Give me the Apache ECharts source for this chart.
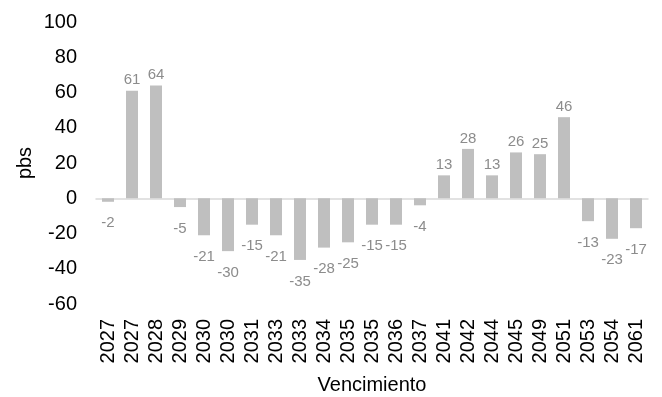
<!DOCTYPE html>
<html>
<head>
<meta charset="utf-8">
<script src="https://cdn.jsdelivr.net/npm/echarts@6/dist/echarts.min.js"></script>
<style>
  html, body { margin: 0; padding: 0; background: #fff; }
  #chart { width: 662px; height: 397px; }
</style>
</head>
<body>
<div id="chart"></div>
<script>
// Maturity year of each bond
const categories = ['2027', '2027', '2028', '2029', '2030', '2030', '2031', '2033', '2033', '2034', '2035', '2035', '2036', '2037', '2041', '2042', '2044', '2045', '2049', '2051', '2053', '2054', '2061'];
// Spread change in basis points
const values = [-2, 61, 64, -5, -21, -30, -15, -21, -35, -28, -25, -15, -15, -4, 13, 28, 13, 26, 25, 46, -13, -23, -17];
// Value axis range
const yMin = -60, yMax = 100, yStep = 20;

const FONT = 'Liberation Sans, Arial, sans-serif';

const barData = values.map(v => ({
  value: v,
  label: v < 0 ? { position: 'bottom', distance: 14 } : { position: 'top', distance: 3 }
}));

const chart = echarts.init(document.getElementById('chart'));
chart.setOption({
  animation: false,
  backgroundColor: '#ffffff',
  grid: { left: 96, right: 14, top: 22, bottom: 93, containLabel: false, outerBoundsMode: 'none' },
  xAxis: [
    {
      type: 'category',
      data: categories,
      name: 'Vencimiento',
      nameLocation: 'middle',
      nameGap: 71,
      nameMoveOverlap: false,
      nameTextStyle: { fontFamily: FONT, fontSize: 20, color: '#000' },
      axisLine: { show: false, onZero: false },
      axisTick: { show: false },
      splitLine: { show: false },
      axisLabel: { rotate: 90, margin: 15, fontFamily: FONT, fontSize: 20, color: '#000', interval: 0 }
    },
    {
      // baseline drawn at zero
      type: 'category',
      data: categories,
      position: 'bottom',
      axisLine: { show: true, onZero: true, lineStyle: { color: '#d9d9d9', width: 1.5 } },
      axisTick: { show: false },
      axisLabel: { show: false },
      splitLine: { show: false }
    }
  ],
  yAxis: {
    type: 'value',
    min: yMin,
    max: yMax,
    interval: yStep,
    name: 'pbs',
    nameLocation: 'middle',
    nameGap: 61,
    nameMoveOverlap: false,
    nameTextStyle: { fontFamily: FONT, fontSize: 20, color: '#000' },
    axisLine: { show: false },
    axisTick: { show: false },
    splitLine: { show: false },
    axisLabel: { margin: 19, fontFamily: FONT, fontSize: 20, color: '#000' }
  },
  series: [{
    type: 'bar',
    xAxisIndex: 0,
    data: barData,
    barWidth: '50%',
    itemStyle: { color: '#bfbfbf' },
    label: { show: true, fontFamily: FONT, fontSize: 15, color: '#8c8c8c' }
  }]
});
</script>
</body>
</html>
